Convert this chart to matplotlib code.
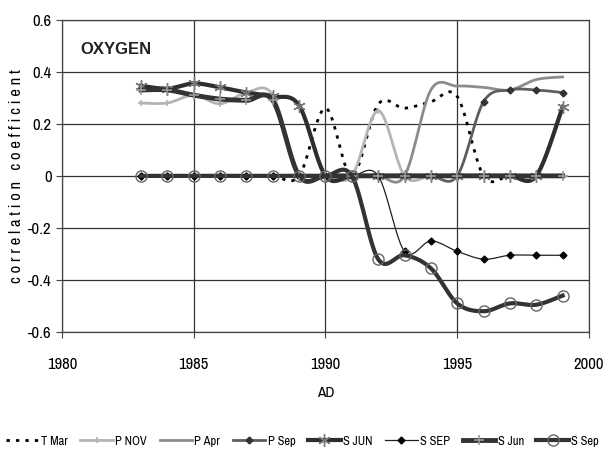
import numpy as np
import matplotlib
matplotlib.use("Agg")
import matplotlib.pyplot as plt
from matplotlib import font_manager

narrow = [f.name for f in font_manager.fontManager.ttflist if "Narrow" in f.name]
plt.rcParams['font.family'] = (narrow[:1] + ['Liberation Sans', 'DejaVu Sans'])

years = list(range(1983, 2000))

t_mar = [0, 0, 0, 0, 0, 0, 0, 0.26, 0, 0.275, 0.26, 0.285, 0.305, 0, 0, 0, 0]
p_nov = [0.28, 0.28, 0.31, 0.277, 0.32, 0.31, 0, 0, 0, 0.25, 0, 0, 0, 0, 0, 0, 0]
p_apr = [0, 0, 0, 0, 0, 0, 0, 0, 0, 0, 0, 0.33, 0.345, 0.34, 0.33, 0.37, 0.38]
p_sep = [0, 0, 0, 0, 0, 0, 0, 0, 0, 0, 0, 0, 0, 0.285, 0.33, 0.33, 0.32]
s_jun_a = [0.346, 0.335, 0.355, 0.34, 0.32, 0.305, 0.27, 0, 0, 0, 0, 0, 0, 0, 0, 0, 0.265]
s_sep_a = [0, 0, 0, 0, 0, 0, 0, 0, 0, 0, -0.29, -0.25, -0.29, -0.32, -0.305, -0.305, -0.305]
s_jun_b = [0.33, 0.33, 0.31, 0.295, 0.29, 0.29, 0, 0, 0, 0, 0, 0, 0, 0, 0, 0, 0]
s_sep_b = [0, 0, 0, 0, 0, 0, 0, 0, 0, -0.32, -0.305, -0.355, -0.49, -0.52, -0.49, -0.495, -0.46]

labels = ["T Mar", "P NOV", "P Apr", "P Sep", "S JUN", "S SEP", "S Jun", "S Sep"]


def smooth(xs, ys, n=24):
    """Catmull-Rom curve through the points (same look as spreadsheet smoothing)."""
    xs = np.asarray(xs, float)
    ys = np.asarray(ys, float)
    px = np.concatenate([[xs[0]], xs, [xs[-1]]])
    py = np.concatenate([[ys[0]], ys, [ys[-1]]])
    ox, oy = [], []
    t = np.linspace(0, 1, n, endpoint=False)
    for i in range(1, len(xs)):
        p0x, p1x, p2x, p3x = px[i - 1], px[i], px[i + 1], px[i + 2]
        p0y, p1y, p2y, p3y = py[i - 1], py[i], py[i + 1], py[i + 2]
        h00 = 2 * t**3 - 3 * t**2 + 1
        h10 = t**3 - 2 * t**2 + t
        h01 = -2 * t**3 + 3 * t**2
        h11 = t**3 - t**2
        m1x, m2x = (p2x - p0x) / 2, (p3x - p1x) / 2
        m1y, m2y = (p2y - p0y) / 2, (p3y - p1y) / 2
        ox.extend(h00 * p1x + h10 * m1x + h01 * p2x + h11 * m2x)
        oy.extend(h00 * p1y + h10 * m1y + h01 * p2y + h11 * m2y)
    ox.append(xs[-1])
    oy.append(ys[-1])
    return np.array(ox), np.array(oy), [k * n for k in range(len(xs))]


fig = plt.figure(figsize=(6.05, 4.58), dpi=100)
ax = fig.add_axes([0.1025, 0.275, 0.871, 0.682])

styles = [
    dict(color="black", lw=2.0, ls=(0, (1.2, 2.2)), marker=None),
    dict(color="#b4b4b4", lw=2.0, marker="+", ms=5, mew=1.2, mec="#b4b4b4"),
    dict(color="#8c8c8c", lw=2.0, marker=None),
    dict(color="#5e5e5e", lw=2.0, marker="D", ms=3.5, mfc="#333333", mec="#333333"),
    dict(color="#2e2e2e", lw=3.0, marker=(6, 2, 0), ms=9, mew=1.0, mec="#777777"),
    dict(color="#202020", lw=0.9, marker="D", ms=3.5, mfc="black", mec="black"),
    dict(color="#333333", lw=3.5, marker="+", ms=7, mew=1.2, mec="#9a9a9a"),
    dict(color="#333333", lw=3.0, marker="o", ms=8, mfc="none", mec="#666666", mew=1.0),
]

series = [t_mar, p_nov, p_apr, p_sep, s_jun_a, s_sep_a, s_jun_b, s_sep_b]
for vals, lab, st in zip(series, labels, styles):
    sx, sy, idx = smooth(years, vals)
    st = dict(st)
    kw = dict(color=st.pop("color"), lw=st.pop("lw"), label=lab)
    if "ls" in st:
        kw["ls"] = st.pop("ls")
        kw["dash_capstyle"] = "butt"
    mk = st.pop("marker")
    if mk is not None:
        kw["marker"] = mk
        kw["markevery"] = idx
        kw.update(st)
    ax.plot(sx, sy, **kw)

ax.set_xlim(1980, 2000)
ax.set_ylim(-0.6, 0.6)
ax.set_xticks([1980, 1985, 1990, 1995, 2000])
ax.set_yticks([-0.6, -0.4, -0.2, 0, 0.2, 0.4, 0.6])
ax.set_yticklabels(["-0.6", "-0.4", "-0.2", "0", "0.2", "0.4", "0.6"])
ax.grid(True, color="#333333", lw=0.9)
ax.set_axisbelow(True)
for s in ax.spines.values():
    s.set_color("#444444")
    s.set_linewidth(0.9)
ax.tick_params(labelsize=12, length=4, width=0.8, color="#444444")
ax.tick_params(axis="x", pad=14)
ax.set_xlabel("AD", fontsize=11, labelpad=10)
ax.set_ylabel("c o r r e l a t i o n   c o e f f i c i e n t", fontsize=12, labelpad=3)
ax.text(0.035, 0.89, "OXYGEN", transform=ax.transAxes, fontsize=12,
        fontweight="bold", color="#222222", family=["Liberation Sans", "DejaVu Sans"])

fig.legend(loc="lower center", bbox_to_anchor=(0.5, 0.0), ncol=8, frameon=False,
           fontsize=9, handlelength=2.6, columnspacing=1.0, handletextpad=0.2)

fig.savefig("out.png", dpi=100)
